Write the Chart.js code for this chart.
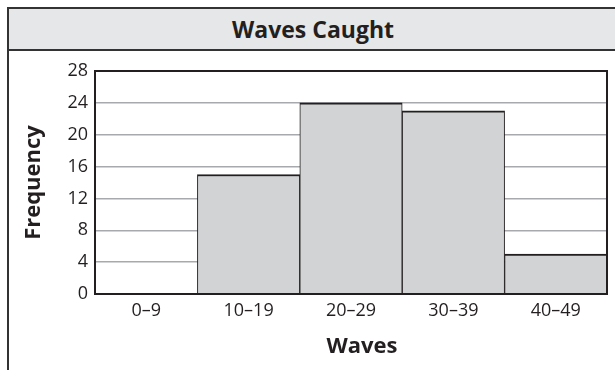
<!DOCTYPE html>
<html>
<head>
<meta charset="utf-8">
<script src="https://cdn.jsdelivr.net/npm/chart.js@4"></script>
<style>
    body { margin: 0; background: #fff; width: 615px; height: 370px; overflow: hidden; font-family: "Open Sans", sans-serif; }
    #frame { position: absolute; left: 7px; top: 7px; width: 608px; height: 363px; border-left: 2px solid #333; border-top: 2px solid #333; }
    #titlebar { height: 39px; padding-top: 1px; line-height: 39px; background: #e6e7e8; border-bottom: 2px solid #333; text-align: center; font-weight: bold; font-size: 23px; color: #231f20; }
    #wrap { position: absolute; left: 9px; top: 51px; width: 606px; height: 319px; }
    #xTitle { position: absolute; left: 302px; width: 120px; top: 330px; height: 28px; line-height: 28px; text-align: center; font-weight: bold; font-size: 22px; color: #231f20; }
</style>
</head>
<body>
<div id="frame"><div id="titlebar">Waves Caught</div></div>
<div id="wrap"><canvas id="wavesChart"></canvas></div>
<div id="xTitle">Waves</div>
<script>
var categories = ["0\u20139", "10\u201319", "20\u201329", "30\u201339", "40\u201349"];
var frequency = [0, 15, 24, 23, 5];
var yTicks = [0, 4, 8, 12, 16, 20, 24, 28];

var ink = "#231f20";

// box around the plot area (top and right edges are not axis borders)
var plotFrame = {
    id: "plotFrame",
    afterDatasetsDraw: function(chart) {
        var a = chart.chartArea;
        var ctx = chart.ctx;
        ctx.save();
        ctx.strokeStyle = ink;
        ctx.lineWidth = 2;
        ctx.strokeRect(a.left, a.top, a.right - a.left, a.bottom - a.top);
        ctx.restore();
    }
};

var ctx = document.getElementById("wavesChart");
var chart = new Chart(ctx, {
    type: "bar",
    data: {
        labels: categories,
        datasets: [{
            data: frequency,
            backgroundColor: "#d1d3d4",
            borderColor: ink,
            borderWidth: { top: 2, left: 1, right: 1, bottom: 0 },
            barPercentage: 1,
            categoryPercentage: 1
        }]
    },
    options: {
        responsive: true,
        maintainAspectRatio: false,
        animation: false,
        layout: { padding: { top: 20, right: 8, left: 0, bottom: 0 } },
        plugins: {
            legend: { display: false },
            tooltip: { enabled: false }
        },
        scales: {
            x: {
                grid: { display: false, drawTicks: false },
                border: { display: true, color: ink, width: 2 },
                ticks: { color: ink, padding: 6, font: { family: "Open Sans", size: 18 } },
                // axis title "Waves" sits off-centre in the original, placed as #xTitle
                title: { display: false },
                afterFit: function(scale) { scale.height = 76; }
            },
            y: {
                min: yTicks[0],
                max: yTicks[yTicks.length - 1],
                afterBuildTicks: function(scale) {
                    scale.ticks = yTicks.map(function(v) { return { value: v }; });
                },
                grid: { color: "#a7a9ac", lineWidth: 1.5, drawTicks: false },
                border: { display: true, color: ink, width: 2 },
                ticks: { color: ink, padding: 7, font: { family: "Open Sans", size: 18 } },
                title: {
                    display: true,
                    text: "Frequency",
                    color: ink,
                    padding: { top: 12 },
                    font: { family: "Open Sans", size: 22, weight: "bold" }
                },
                afterFit: function(scale) { scale.width = 86; }
            }
        }
    },
    plugins: [plotFrame]
});
</script>
</body>
</html>
